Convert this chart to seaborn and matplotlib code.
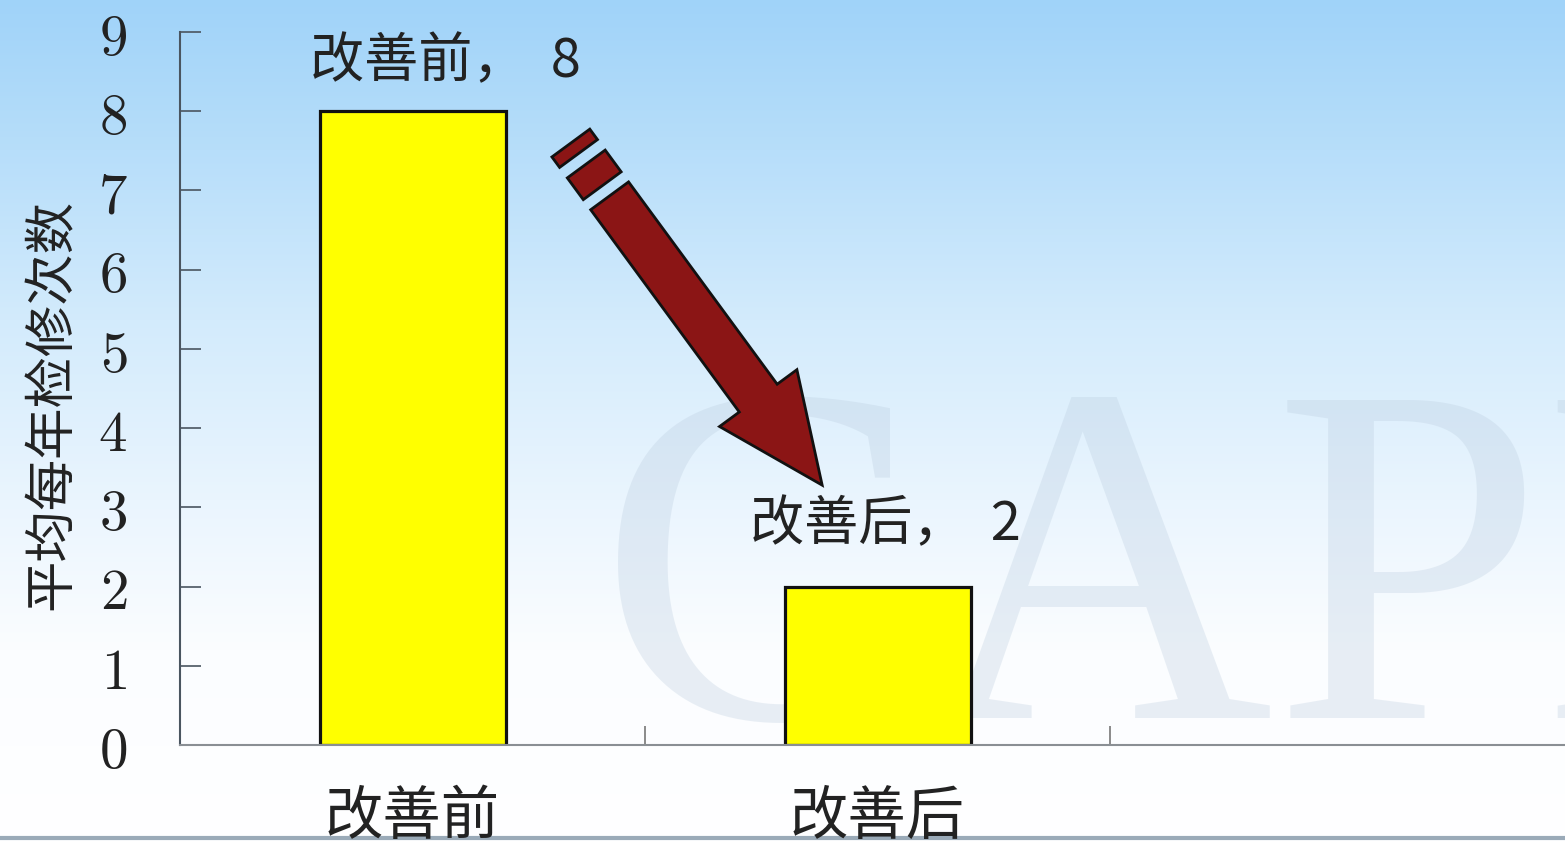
import numpy as np
import matplotlib
matplotlib.use('Agg')
import matplotlib.pyplot as plt
import seaborn as sns
from matplotlib.patches import Polygon
from matplotlib.transforms import Affine2D, ScaledTranslation

# ---- data ----
categories = ['改善前', '改善后']
values = [8, 2]
y_ticks = [0, 1, 2, 3, 4, 5, 6, 7, 8, 9]
y_label = '平均每年检修次数'
value_labels = [f'{c}，  {v}' for c, v in zip(categories, values)]

# ---- layout (not data) ----
label_dx = [0.07, 0.016]
label_dy = [0.62, 0.78]

sns.set_theme(style='white')
plt.rcParams['font.family'] = ['Noto Sans CJK SC', 'DejaVu Sans']
plt.rcParams['mathtext.fontset'] = 'cm'
plt.rcParams['axes.unicode_minus'] = False

W, H = 1565, 841
fig = plt.figure(figsize=(W / 100, H / 100), dpi=100)

# background gradient
bg = fig.add_axes([0, 0, 1, 1], zorder=0)
stops_y = [0, 150, 320, 500, 650, 841]
stops_c = np.array([[160, 211, 249], [183, 222, 250], [211, 235, 252],
                    [234, 245, 254], [251, 253, 255], [255, 255, 255]]) / 255
yy = np.arange(H)
grad = np.stack([np.interp(yy, stops_y, stops_c[:, k]) for k in range(3)], axis=1)
img = np.repeat(grad[:, None, :], 2, axis=1)
bg.imshow(img, aspect='auto', extent=[0, 1, 0, 1], origin='upper')
bg.set_xlim(0, 1)
bg.set_ylim(0, 1)
bg.axis('off')
bg.text(598 / W, 1 - 718 / H, 'CAPE', fontsize=350, family='Liberation Serif',
        color='#b9cbdd', alpha=0.3, ha='left', va='baseline')
bg.axhline(1 - 838 / H, color='#9aaab8', lw=3)

# main axes
ax = fig.add_axes([180 / W, 1 - 745 / H, 1385 / W, 713 / H], zorder=1)
ax.patch.set_alpha(0)
sns.barplot(x=categories, y=values, ax=ax, color='#ffff00', edgecolor='#111111',
            linewidth=2.3, width=0.4, saturation=1)
ax.set_xlim(-0.5, -0.5 + 1385 / 465)
ax.set_ylim(0, 9)

for s in ['top', 'right']:
    ax.spines[s].set_visible(False)
ax.spines['left'].set_color('#4a5560')
ax.spines['left'].set_linewidth(1.5)
ax.spines['bottom'].set_color('#8a8f94')
ax.spines['bottom'].set_linewidth(1.5)

ax.set_yticks(y_ticks)
ax.set_yticklabels([f'${t}$' for t in y_ticks], fontsize=41, color='#222222')
ax.tick_params(axis='y', direction='in', length=15, width=1.2, color='#4a5560', pad=38, left=True)

ax.set_xticks([0, 1])
ax.set_xticklabels(categories, fontsize=42, color='#222222')
ax.tick_params(axis='x', which='major', length=0, pad=30)
ax.set_xticks([0.5, 1.5], minor=True)
ax.tick_params(axis='x', which='minor', direction='in', length=14, width=1.2, color='#777777', bottom=True)

ax.set_xlabel('')
ax.set_ylabel(y_label, fontsize=37, color='#222222')
ax.yaxis.set_label_coords(-0.073, 0.477)

for i, (lab, v) in enumerate(zip(value_labels, values)):
    ax.text(i + label_dx[i], v + label_dy[i], lab, ha='center', va='center',
            fontsize=39, color='#222222', zorder=6)

# decorative arrow from bar 1 towards bar 2 (pixel-shaped, anchored in data coords)
tip = (0.881, 3.28)
hl, hw, sw, shaft_end = 108, 48, 23.5, 359


def rect(u0, u1):
    return [(u0, sw), (u1, sw), (u1, -sw), (u0, -sw)]


pieces = [
    [(0, 0), (-hl, hw), (-hl, sw), (-shaft_end, sw), (-shaft_end, -sw), (-hl, -sw), (-hl, -hw)],
    rect(-398.5, -371.5),
    rect(-424.5, -411.5),
]
tr = Affine2D().rotate_deg(-53.7).scale(fig.dpi / 100) + ScaledTranslation(tip[0], tip[1], ax.transData)
for p in pieces:
    ax.add_patch(Polygon(p, closed=True, transform=tr, facecolor='#8b1515',
                         edgecolor='#111111', lw=2, zorder=5, clip_on=False))

fig.savefig('out.png', dpi=100)
